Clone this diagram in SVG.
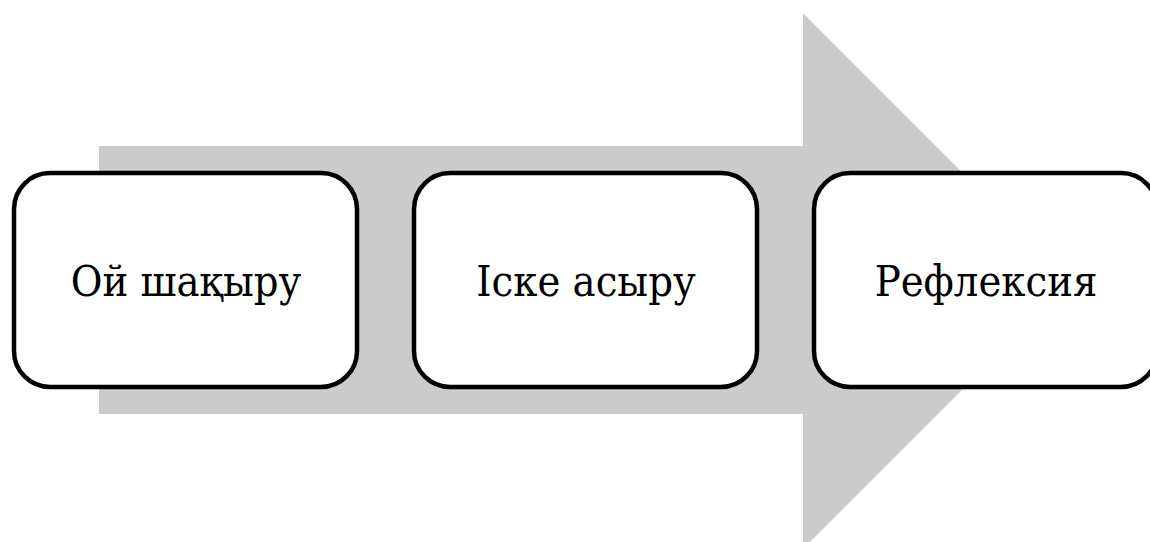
<svg xmlns="http://www.w3.org/2000/svg" width="1150" height="542" viewBox="0 0 1150 542">
<style>
.box{fill:#ffffff;stroke:#000000;stroke-width:4.5}
.lbl{font-family:"DejaVu Serif",serif;font-stretch:condensed;font-size:43px;fill:#000000;text-anchor:middle}
</style>
<rect width="1150" height="542" fill="#ffffff"/>
<g id="connectors">
<path id="arrow" d="M99,146 H803 V13 L1071,281 L803,549 V414 H99 Z" fill="#cbcbcb"/>
</g>
<g id="node1">
<rect class="box" x="14" y="173" width="343" height="214" rx="36" ry="36"/>
<text class="lbl" x="186" y="296">Ой шақыру</text>
</g>
<g id="node2">
<rect class="box" x="414" y="173" width="343" height="214" rx="36" ry="36"/>
<text class="lbl" x="586" y="296">Іске асыру</text>
</g>
<g id="node3">
<rect class="box" x="814" y="173" width="343" height="214" rx="36" ry="36"/>
<text class="lbl" x="986" y="296">Рефлексия</text>
</g>
</svg>
